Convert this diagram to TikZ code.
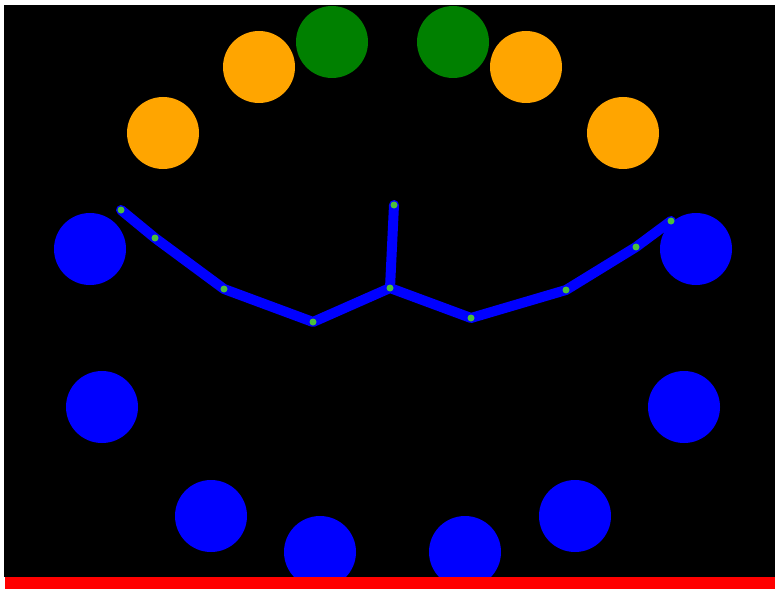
\documentclass[tikz,border=0pt]{standalone}
\definecolor{orng}{RGB}{255,165,0}
\definecolor{grn}{RGB}{0,128,0}
\definecolor{blu}{RGB}{0,0,255}
\definecolor{rd}{RGB}{255,0,0}
\definecolor{dotg}{RGB}{76,190,60}
\begin{document}
\begin{tikzpicture}[x=1pt,y=-1pt,
  ball/.style={circle,inner sep=0pt,minimum size=72pt,fill=#1,draw=none},
  joint/.style={circle,inner sep=0pt,minimum size=7pt,fill=dotg,draw=none},
  bone/.style={draw=blu,line width=10pt,line cap=round,line join=round}]
\useasboundingbox (0,0) rectangle (775,588);
\fill[white] (0,0) rectangle (775,588);
\fill[black] (4,5) rectangle (776,577);
% balls
\node[ball=orng] (o1) at (163,133) {};
\node[ball=orng] (o2) at (259,67) {};
\node[ball=orng] (o3) at (526,67) {};
\node[ball=orng] (o4) at (623,133) {};
\node[ball=grn] (g1) at (332,42) {};
\node[ball=grn] (g2) at (453,42) {};
\node[ball=blu] (b1) at (90,249) {};
\node[ball=blu] (b2) at (696,249) {};
\node[ball=blu] (b3) at (102,407) {};
\node[ball=blu] (b4) at (684,407) {};
\node[ball=blu] (b5) at (211,516) {};
\node[ball=blu] (b6) at (575,516) {};
\node[ball=blu] (b7) at (320,552) {};
\node[ball=blu] (b8) at (465,552) {};
% floor
\fill[rd] (5,577) rectangle (777,590);
% joint positions
\coordinate (j1) at (121,210);
\coordinate (j2) at (155,238);
\coordinate (j3) at (224,289);
\coordinate (j4) at (313,322);
\coordinate (j5) at (390,288);
\coordinate (j6) at (471,318);
\coordinate (j7) at (566,290);
\coordinate (j8) at (636,247);
\coordinate (j9) at (671,221);
\coordinate (j10) at (394,205);
% skeleton
\draw[bone] (j1) -- (j2) -- (j3) -- (j4) -- (j5) -- (j6) -- (j7) -- (j8) -- (j9);
\draw[bone] (j5) -- (j10);
% joints
\foreach \k in {1,...,10} \node[joint] (d\k) at (j\k) {};
\end{tikzpicture}
\end{document}
